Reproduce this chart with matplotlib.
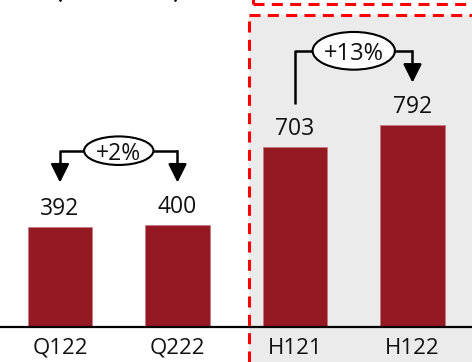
import matplotlib
matplotlib.use("Agg")
import matplotlib.pyplot as plt
from matplotlib.patches import Ellipse, Rectangle
from matplotlib.lines import Line2D

plt.rcParams['font.family'] = ['Open Sans', 'DejaVu Sans']

categories = ['Q122', 'Q222', 'H121', 'H122']
values = [392, 400, 703, 792]
growth = ['+2%', '+13%']
pairs = [(0, 1), (2, 3)]
both_arrows = [True, False]

bar_color = '#951922'
shade = '#ebebeb'

fig = plt.figure(figsize=(4.72, 3.62), dpi=100)
W, H = 472, 362
base_px = 326.5
ax = fig.add_axes([0, (H - base_px) / H, 1, base_px / H])
ax.set_xlim(-60 / 117.5, 412 / 117.5)
ax.set_ylim(0, base_px / 0.2548)
ax.patch.set_alpha(0)

# shaded half-year panel with dashed outline
fig.patches.append(Rectangle((249 / W, 0), 1, (H - 15) / H, transform=fig.transFigure,
                             facecolor=shade, edgecolor='none', zorder=-5))
dash = dict(color='#ff0000', lw=2.2, linestyle=(0, (3.6, 2.4)), transform=fig.transFigure,
            zorder=-4)
fig.lines.append(Line2D([249 / W, 249 / W], [0, (H - 15) / H], **dash))
fig.lines.append(Line2D([249 / W, 1], [(H - 15) / H, (H - 15) / H], **dash))
fig.lines.append(Line2D([253 / W, 1], [(H - 3.5) / H, (H - 3.5) / H], **dash))
fig.lines.append(Line2D([253 / W, 253 / W], [(H - 3.5) / H, 1.02], **dash))

x = list(range(len(categories)))
ax.bar(x, values, width=0.553, color=bar_color, edgecolor='#c47a80', linewidth=0.5, zorder=2)

for xi, v in zip(x, values):
    ax.annotate(f'{v}', (xi, v), xytext=(0, 8.6), textcoords='offset points',
                ha='center', va='baseline', fontsize=16.5, color='#111111')

arrow_kw = dict(arrowstyle='-|>,head_length=0.8,head_width=0.4', mutation_scale=14,
                lw=1.8, color='black', shrinkA=0, shrinkB=0)
for (a, b), label, both in zip(pairs, growth, both_arrows):
    top = max(values[a], values[b])
    y_line = top + 290
    y_tip = top + 165
    ax.plot([a, a, b], [y_tip + 60 if both else values[a] + 170, y_line, y_line],
            color='black', lw=1.8, solid_capstyle='butt', zorder=3)
    if both:
        ax.annotate('', xy=(a, y_tip), xytext=(a, y_tip + 62), arrowprops=arrow_kw)
    ax.plot([b, b], [y_line, y_tip + 60], color='black', lw=1.8, zorder=3)
    ax.annotate('', xy=(b, y_tip), xytext=(b, y_tip + 62), arrowprops=arrow_kw)
    short = len(label) < 4
    w = 0.59 if short else 0.70
    h = 112 if short else 148
    ax.add_patch(Ellipse(((a + b) / 2, y_line), w, h, facecolor='white',
                         edgecolor='black', lw=1.5, zorder=4))
    ax.text((a + b) / 2, y_line, label, ha='center', va='center_baseline',
            fontsize=16.5 if short else 17, color='#111111', zorder=5)

# arrow tips of the panel above, cut off at the top edge
ax.plot([0, 0.979], [ax.get_ylim()[1] + 22, ax.get_ylim()[1] + 22], 'v',
        color='black', markersize=10, clip_on=False)

ax.set_xticks(x)
ax.set_xticklabels(categories, fontsize=16, color='#111111')
ax.tick_params(axis='x', length=0, pad=8)
ax.set_yticks([])
for s in ['top', 'left', 'right']:
    ax.spines[s].set_visible(False)
ax.spines['bottom'].set_linewidth(1.6)
ax.spines['bottom'].set_zorder(3)

fig.savefig('out.png', dpi=100)
